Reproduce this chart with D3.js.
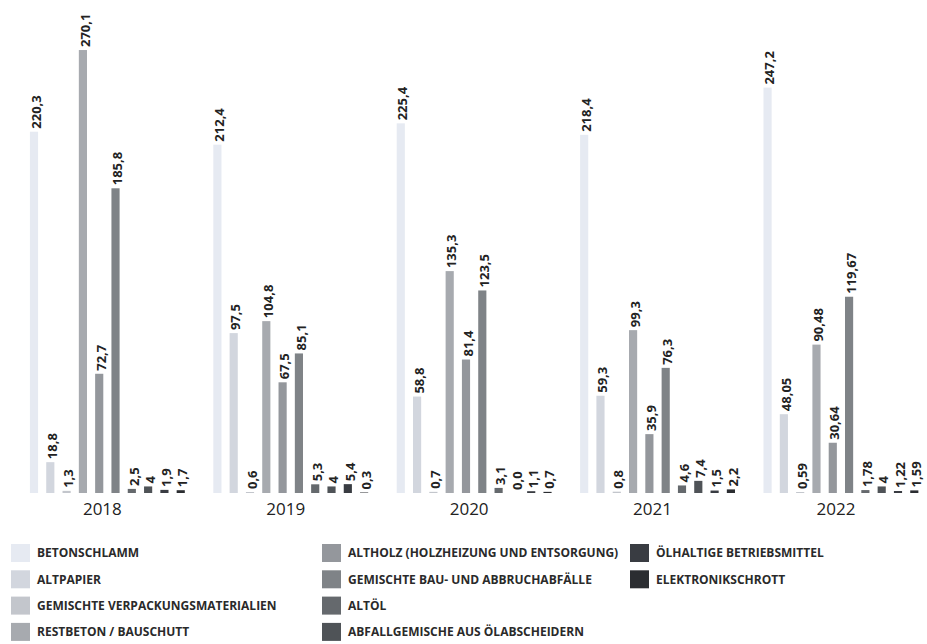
<!DOCTYPE html>
<html lang="de">
<head>
<meta charset="utf-8">
<script src="https://cdn.jsdelivr.net/npm/d3@7"></script>
<style>
  html, body { margin: 0; padding: 0; background: #ffffff; }
  svg { display: block; font-family: "Open Sans", "Noto Sans", sans-serif; }
</style>
</head>
<body>
<svg id="chart" width="927" height="644"></svg>
<script>
// Abfallmengen je Jahr und Abfallart
const years = ["2018", "2019", "2020", "2021", "2022"];

const series = [
  "BETONSCHLAMM",
  "ALTPAPIER",
  "GEMISCHTE VERPACKUNGSMATERIALIEN",
  "RESTBETON / BAUSCHUTT",
  "ALTHOLZ (HOLZHEIZUNG UND ENTSORGUNG)",
  "GEMISCHTE BAU- UND ABBRUCHABFÄLLE",
  "ALTÖL",
  "ABFALLGEMISCHE AUS ÖLABSCHEIDERN",
  "ÖLHALTIGE BETRIEBSMITTEL",
  "ELEKTRONIKSCHROTT"
];

// values per series, one entry per year (as printed, German decimal comma)
const betonschlamm      = ["220,3", "212,4", "225,4", "218,4", "247,2"];
const altpapier         = ["18,8", "97,5", "58,8", "59,3", "48,05"];
const verpackung        = ["1,3", "0,6", "0,7", "0,8", "0,59"];
const restbeton         = ["270,1", "104,8", "135,3", "99,3", "90,48"];
const altholz           = ["72,7", "67,5", "81,4", "35,9", "30,64"];
const bauAbbruch        = ["185,8", "85,1", "123,5", "76,3", "119,67"];
const altoel            = ["2,5", "5,3", "3,1", "4,6", "1,78"];
const oelabscheider     = ["4", "4", "0,0", "7,4", "4"];
const oelBetriebsmittel = ["1,9", "5,4", "1,1", "1,5", "1,22"];
const elektronik        = ["1,7", "0,3", "0,7", "2,2", "1,59"];

const seriesValues = [
  betonschlamm, altpapier, verpackung, restbeton, altholz,
  bauAbbruch, altoel, oelabscheider, oelBetriebsmittel, elektronik
];

const colors = [
  "#e6eaf2", "#d2d6de", "#c3c6cc", "#a7aaaf", "#94979c",
  "#7f8387", "#65696d", "#4f5357", "#393c42", "#2b2d31"
];

const parse = s => +s.replace(",", ".");

const rows = [];
years.forEach((yr, yi) => {
  series.forEach((s, si) => {
    const label = seriesValues[si][yi];
    rows.push({ year: yr, series: s, si, label, value: parse(label) });
  });
});

const svg = d3.select("#chart");

const x0 = d3.scaleBand()
  .domain(years)
  .range([25.85, 922.45])
  .paddingInner(0.111)
  .paddingOuter(0);

const x1 = d3.scaleBand()
  .domain(series)
  .range([0, x0.bandwidth()])
  .paddingInner(0.5)
  .paddingOuter(0.25);

const y = d3.scaleLinear()
  .domain([0, 300])
  .range([493, 1]);

const color = d3.scaleOrdinal().domain(series).range(colors);

// bars
svg.append("g")
  .selectAll("rect")
  .data(rows)
  .join("rect")
  .attr("x", d => x0(d.year) + x1(d.series))
  .attr("y", d => y(d.value))
  .attr("width", x1.bandwidth())
  .attr("height", d => y(0) - y(d.value))
  .attr("fill", d => color(d.series));

// value labels, rotated above each bar
svg.append("g")
  .selectAll("text")
  .data(rows)
  .join("text")
  .attr("transform", d => {
    const cx = x0(d.year) + x1(d.series) + x1.bandwidth() / 2 + 2;
    return `translate(${cx},${y(d.value) - 3}) rotate(-90)`;
  })
  .attr("dy", "0.36em")
  .attr("text-anchor", "start")
  .attr("font-size", 13)
  .attr("font-weight", 700)
  .attr("fill", "#222")
  .text(d => d.label);

// year labels under the groups
svg.append("g")
  .selectAll("text")
  .data(years)
  .join("text")
  .attr("x", d => x0(d) + x0.bandwidth() / 2 - 5)
  .attr("y", 515)
  .attr("text-anchor", "middle")
  .attr("font-size", 17)
  .attr("fill", "#222")
  .text(d => d);

// legend: three columns
const legendCols = [11, 322, 630];
const perCol = 4;
const legend = svg.append("g")
  .selectAll("g")
  .data(series)
  .join("g")
  .attr("transform", (d, i) =>
    `translate(${legendCols[Math.floor(i / perCol)]},${553 + (i % perCol) * 26.3})`);

legend.append("rect")
  .attr("x", 0)
  .attr("y", -9)
  .attr("width", 19)
  .attr("height", 18)
  .attr("fill", d => color(d));

legend.append("text")
  .attr("x", 26)
  .attr("y", 0)
  .attr("dy", "0.35em")
  .attr("font-size", 12)
  .attr("font-weight", 700)
  .attr("fill", "#2a2a2a")
  .text(d => d);
</script>
</body>
</html>
